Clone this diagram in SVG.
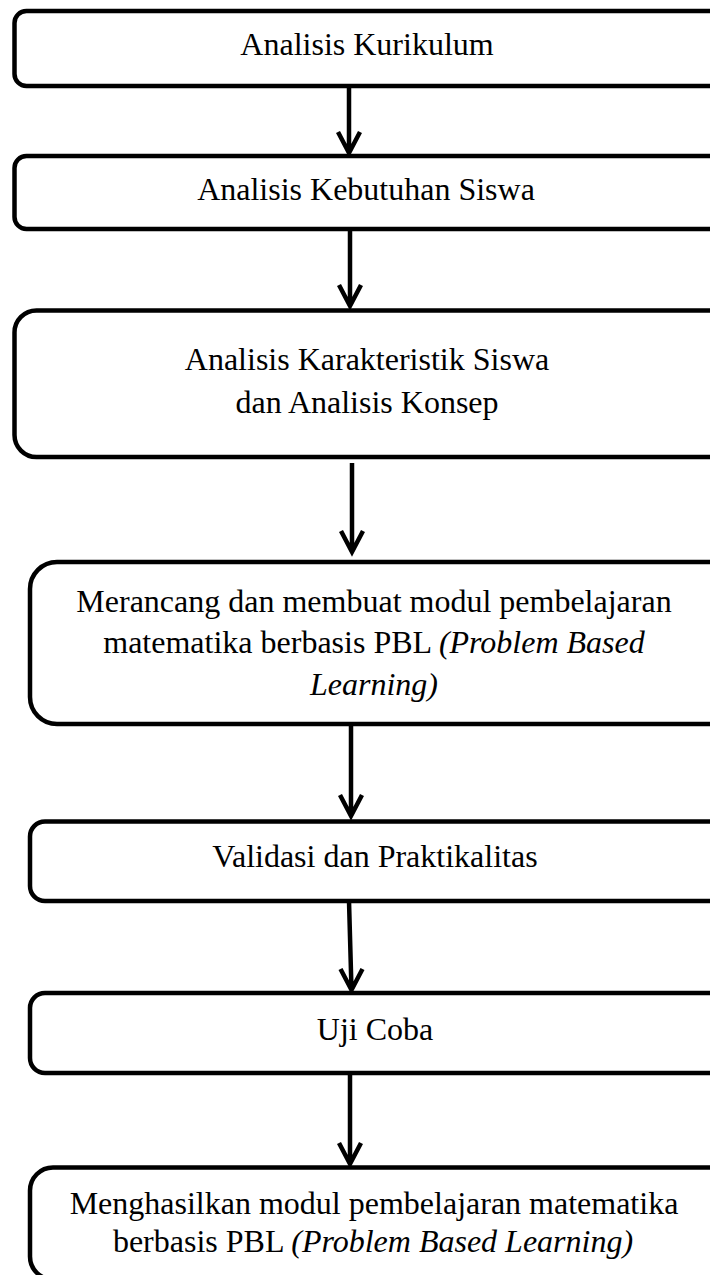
<svg xmlns="http://www.w3.org/2000/svg" width="710" height="1275" viewBox="0 0 710 1275">
<style>
.box{fill:#fff;stroke:#000;stroke-width:4.5}
.lbl{font-family:"Liberation Serif","Times New Roman",serif;font-size:32px;fill:#000;text-anchor:middle}
.it{font-style:italic}
.con{fill:none;stroke:#000;stroke-width:4.5;stroke-linejoin:miter}
</style>
<rect width="710" height="1275" fill="#fff"/>
<g id="n1"><rect class="box" x="14.5" y="11" width="720" height="75" rx="12"/><text class="lbl" x="367" y="55">Analisis Kurikulum</text></g>
<g id="n2"><rect class="box" x="14.5" y="156" width="720" height="73" rx="12"/><text class="lbl" x="366" y="200">Analisis Kebutuhan Siswa</text></g>
<g id="n3"><rect class="box" x="14.5" y="310.5" width="720" height="146.5" rx="22"/><text class="lbl" x="367" y="370">Analisis Karakteristik Siswa</text><text class="lbl" x="367" y="413">dan Analisis Konsep</text></g>
<g id="n4"><rect class="box" x="30" y="562" width="720" height="162" rx="27"/><text class="lbl" x="374" y="612">Merancang dan membuat modul pembelajaran</text><text class="lbl" x="374" y="653">matematika berbasis PBL <tspan class="it">(Problem Based</tspan></text><text class="lbl it" x="374" y="695">Learning)</text></g>
<g id="n5"><rect class="box" x="30" y="821.5" width="720" height="79.5" rx="15"/><text class="lbl" x="375" y="867">Validasi dan Praktikalitas</text></g>
<g id="n6"><rect class="box" x="30" y="993" width="720" height="80" rx="15"/><text class="lbl" x="375" y="1040">Uji Coba</text></g>
<g id="n7"><rect class="box" x="30" y="1167.5" width="720" height="112" rx="23"/><text class="lbl" x="374" y="1214">Menghasilkan modul pembelajaran matematika</text><text class="lbl" x="373" y="1252">berbasis PBL <tspan class="it">(Problem Based Learning)</tspan></text></g>
<g id="connectors">
<path class="con" d="M349 86 L349 153 M338 132 L349 153 L360 132"/>
<path class="con" d="M350 229 L350 306 M339 285 L350 306 L361 285"/>
<path class="con" d="M352 463 L352 552 M341 531 L352 552 L363 531"/>
<path class="con" d="M351 724 L351 816 M340 795 L351 816 L362 795"/>
<path class="con" d="M349 901 L351.5 990 M340.5 969 L351.5 990 L362.5 969"/>
<path class="con" d="M350 1073 L350 1164 M339 1143 L350 1164 L361 1143"/>
</g>
</svg>
